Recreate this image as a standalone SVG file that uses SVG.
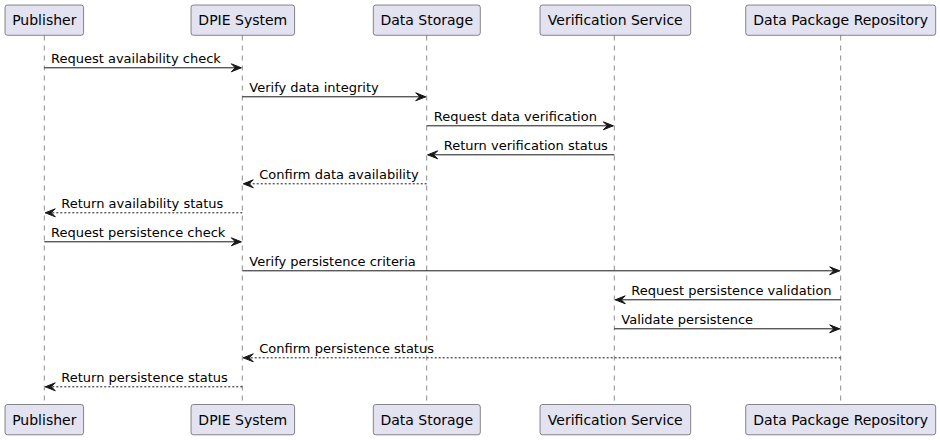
<svg xmlns="http://www.w3.org/2000/svg" width="940" height="440" viewBox="0 0 940 440">
<style>
.box{fill:#E2E2F0;stroke:#181818;stroke-width:0.5}
.life{stroke:#181818;stroke-width:0.5;stroke-dasharray:5,5;fill:none}
.pt{font-family:"DejaVu Sans",sans-serif;font-size:14px;fill:#000;text-anchor:middle}
.msg{stroke:#181818;stroke-width:1;fill:none}
.dash{stroke-dasharray:2,2}
.ah{fill:#181818;stroke:#181818;stroke-width:1}
.ml{font-family:"DejaVu Sans",sans-serif;font-size:13px;fill:#000}
</style>
<defs>
<polygon id="hr" class="ah" points="-10,-4 0,0 -10,4 -6,0"/>
<polygon id="hl" class="ah" points="10,-4 0,0 10,4 6,0"/>
</defs>
<g id="lifelines">
<line class="life" x1="44.3" y1="35.5" x2="44.3" y2="404"/>
<line class="life" x1="242.3" y1="35.5" x2="242.3" y2="404"/>
<line class="life" x1="426.7" y1="35.5" x2="426.7" y2="404"/>
<line class="life" x1="614.3" y1="35.5" x2="614.3" y2="404"/>
<line class="life" x1="840.7" y1="35.5" x2="840.7" y2="404"/>
</g>
<g id="publisher">
<rect class="box" x="5" y="5" width="78.6" height="30.3" rx="2.5"/>
<text class="pt" x="44.3" y="25">Publisher</text>
<rect class="box" x="5" y="404.5" width="78.6" height="30.3" rx="2.5"/>
<text class="pt" x="44.3" y="424.5">Publisher</text>
</g>
<g id="dpie">
<rect class="box" x="191" y="5" width="103.6" height="30.3" rx="2.5"/>
<text class="pt" x="242.8" y="25">DPIE System</text>
<rect class="box" x="191" y="404.5" width="103.6" height="30.3" rx="2.5"/>
<text class="pt" x="242.8" y="424.5">DPIE System</text>
</g>
<g id="storage">
<rect class="box" x="373.3" y="5" width="107" height="30.3" rx="2.5"/>
<text class="pt" x="426.8" y="25">Data Storage</text>
<rect class="box" x="373.3" y="404.5" width="107" height="30.3" rx="2.5"/>
<text class="pt" x="426.8" y="424.5">Data Storage</text>
</g>
<g id="verification">
<rect class="box" x="540" y="5" width="150.7" height="30.3" rx="2.5"/>
<text class="pt" x="615.3" y="25">Verification Service</text>
<rect class="box" x="540" y="404.5" width="150.7" height="30.3" rx="2.5"/>
<text class="pt" x="615.3" y="424.5">Verification Service</text>
</g>
<g id="repository">
<rect class="box" x="745.7" y="5" width="190" height="30.3" rx="2.5"/>
<text class="pt" x="840.7" y="25">Data Package Repository</text>
<rect class="box" x="745.7" y="404.5" width="190" height="30.3" rx="2.5"/>
<text class="pt" x="840.7" y="424.5">Data Package Repository</text>
</g>
<g id="connectors">
<line class="msg" x1="44.3" y1="67.8" x2="241.3" y2="67.8"/><use href="#hr" x="241.3" y="67.8"/>
<text class="ml" x="51" y="62.5">Request availability check</text>

<line class="msg" x1="242.3" y1="96.8" x2="425.7" y2="96.8"/><use href="#hr" x="425.7" y="96.8"/>
<text class="ml" x="249.3" y="91.5">Verify data integrity</text>

<line class="msg" x1="426.7" y1="125.8" x2="613.3" y2="125.8"/><use href="#hr" x="613.3" y="125.8"/>
<text class="ml" x="433.7" y="120.5">Request data verification</text>

<line class="msg" x1="614.3" y1="154.8" x2="427.7" y2="154.8"/><use href="#hl" x="427.7" y="154.8"/>
<text class="ml" x="443.7" y="149.5">Return verification status</text>

<line class="msg dash" x1="426.7" y1="183.8" x2="243.3" y2="183.8"/><use href="#hl" x="243.3" y="183.8"/>
<text class="ml" x="259.3" y="178.5">Confirm data availability</text>

<line class="msg dash" x1="242.3" y1="212.8" x2="45.3" y2="212.8"/><use href="#hl" x="45.3" y="212.8"/>
<text class="ml" x="61.3" y="207.5">Return availability status</text>

<line class="msg" x1="44.3" y1="241.8" x2="241.3" y2="241.8"/><use href="#hr" x="241.3" y="241.8"/>
<text class="ml" x="51" y="236.5">Request persistence check</text>

<line class="msg" x1="242.3" y1="270.8" x2="839.7" y2="270.8"/><use href="#hr" x="839.7" y="270.8"/>
<text class="ml" x="249.3" y="265.5">Verify persistence criteria</text>

<line class="msg" x1="840.7" y1="299.8" x2="615.3" y2="299.8"/><use href="#hl" x="615.3" y="299.8"/>
<text class="ml" x="631.3" y="294.5">Request persistence validation</text>

<line class="msg" x1="614.3" y1="328.8" x2="839.7" y2="328.8"/><use href="#hr" x="839.7" y="328.8"/>
<text class="ml" x="621.3" y="323.5">Validate persistence</text>

<line class="msg dash" x1="840.7" y1="357.8" x2="243.3" y2="357.8"/><use href="#hl" x="243.3" y="357.8"/>
<text class="ml" x="259.3" y="352.5">Confirm persistence status</text>

<line class="msg dash" x1="242.3" y1="386.8" x2="45.3" y2="386.8"/><use href="#hl" x="45.3" y="386.8"/>
<text class="ml" x="61.3" y="381.5">Return persistence status</text>
</g>
</svg>
